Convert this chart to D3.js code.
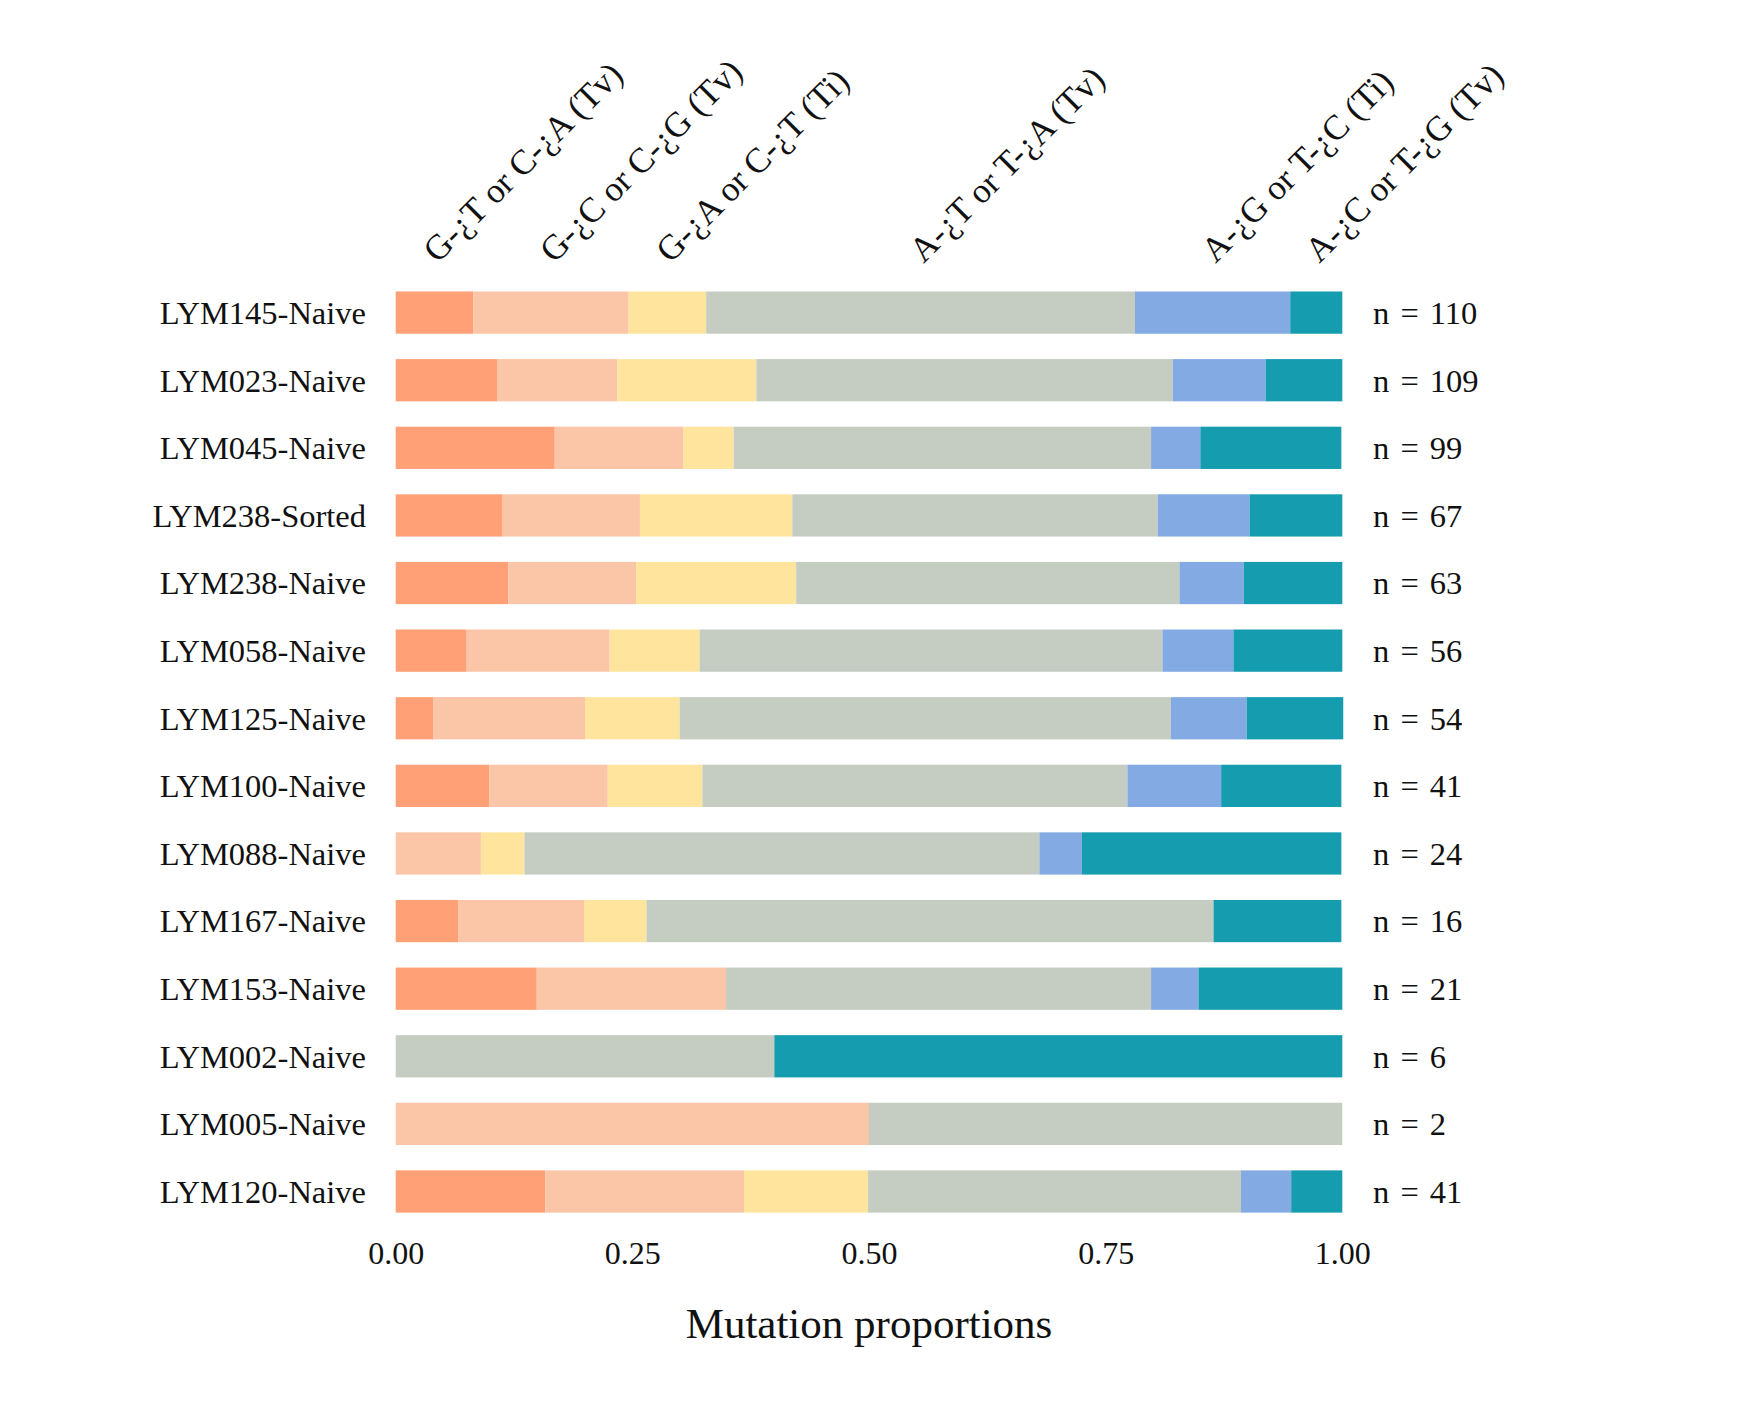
<!DOCTYPE html>
<html>
<head>
<meta charset="utf-8">
<script src="https://cdn.jsdelivr.net/npm/d3@7"></script>
<style>
  html, body { margin: 0; padding: 0; background: #ffffff; }
  svg { display: block; }
  text { font-family: "Liberation Serif", "Times New Roman", serif; fill: #111; }
</style>
</head>
<body>
<svg id="chart" width="1738" height="1423"></svg>
<script>
// ---- data (proportions) ----
const samples = ["LYM145-Naive","LYM023-Naive","LYM045-Naive","LYM238-Sorted","LYM238-Naive","LYM058-Naive","LYM125-Naive","LYM100-Naive","LYM088-Naive","LYM167-Naive","LYM153-Naive","LYM002-Naive","LYM005-Naive","LYM120-Naive"];
const nCounts = [110,109,99,67,63,56,54,41,24,16,21,6,2,41];
const mutationTypes = ["G-¿T or C-¿A (Tv)","G-¿C or C-¿G (Tv)","G-¿A or C-¿T (Ti)","A-¿T or T-¿A (Tv)","A-¿G or T-¿C (Ti)","A-¿C or T-¿G (Tv)"];
const gtCA = [0.082,0.107,0.168,0.113,0.119,0.075,0.040,0.099,0.000,0.066,0.149,0.000,0.000,0.158];
const gcCG = [0.164,0.127,0.136,0.145,0.135,0.151,0.160,0.125,0.090,0.133,0.200,0.000,0.500,0.210];
const gaCT = [0.082,0.147,0.053,0.161,0.169,0.095,0.100,0.100,0.046,0.066,0.000,0.000,0.000,0.131];
const atTA = [0.453,0.440,0.441,0.386,0.405,0.489,0.519,0.449,0.544,0.599,0.449,0.400,0.500,0.394];
const agTC = [0.164,0.098,0.052,0.097,0.068,0.075,0.080,0.099,0.045,0.000,0.050,0.000,0.000,0.053];
const acTG = [0.055,0.081,0.149,0.098,0.104,0.115,0.102,0.127,0.274,0.135,0.152,0.600,0.000,0.054];
const xTicks = [0, 0.25, 0.5, 0.75, 1];
const colors = ["#FFA076","#FBC5A7","#FEE49D","#C5CDC2","#84AAE3","#159CAF"];

const seriesValues = [gtCA, gcCG, gaCT, atTA, agTC, acTG];
const rows = samples.map((s, i) => {
  const r = { sample: s, n: nCounts[i] };
  mutationTypes.forEach((t, k) => { r[t] = seriesValues[k][i]; });
  return r;
});

const svg = d3.select("#chart");

const x = d3.scaleLinear().domain([0, 1]).range([395.7, 1342.3]);
const y = d3.scaleBand().domain(samples).range([278.8, 1225.3])
  .paddingInner(0.375).paddingOuter(0.1875);
const color = d3.scaleOrdinal().domain(mutationTypes).range(colors);

const stacked = d3.stack().keys(mutationTypes)(rows);

svg.append("g").selectAll("g")
  .data(stacked).join("g")
  .attr("fill", d => color(d.key))
  .selectAll("rect")
  .data(d => d).join("rect")
  .attr("x", d => x(d[0]))
  .attr("width", d => Math.max(0, x(d[1]) - x(d[0])))
  .attr("y", d => y(d.data.sample))
  .attr("height", y.bandwidth());

// sample labels
svg.append("g").selectAll("text")
  .data(samples).join("text")
  .attr("x", 366)
  .attr("y", d => y(d) + y.bandwidth() / 2)
  .attr("dy", "0.35em")
  .attr("text-anchor", "end")
  .style("font-size", "32.5px")
  .text(d => d);

// n labels
svg.append("g").selectAll("text")
  .data(rows).join("text")
  .attr("x", 1373)
  .attr("y", d => y(d.sample) + y.bandwidth() / 2)
  .attr("dy", "0.35em")
  .attr("text-anchor", "start")
  .style("font-size", "32.5px")
  .style("word-spacing", "3px")
  .text(d => "n = " + d.n);

// top rotated labels at the centres of the first row's segments
const firstRow = stacked.map(s => ({ key: s.key, c: (s[0][0] + s[0][1]) / 2 }));
svg.append("g").selectAll("text")
  .data(firstRow).join("text")
  .attr("transform", d => `translate(${x(d.c) + 3},264) rotate(-45)`)
  .attr("text-anchor", "start")
  .style("font-size", "35px")
  .text(d => d.key);

// x axis
const axis = d3.axisBottom(x).tickValues(xTicks).tickFormat(d3.format(".2f"))
  .tickSize(0).tickPadding(19);
const gx = svg.append("g").attr("transform", "translate(0,1222)").call(axis);
gx.select(".domain").remove();
gx.selectAll("text")
  .style("font-family", "'Liberation Serif', 'Times New Roman', serif")
  .style("font-size", "32px")
  .attr("fill", "#111");

// axis title
svg.append("text")
  .attr("x", x(0.5))
  .attr("y", 1338)
  .attr("text-anchor", "middle")
  .style("font-size", "43px")
  .text("Mutation proportions");
</script>
</body>
</html>
